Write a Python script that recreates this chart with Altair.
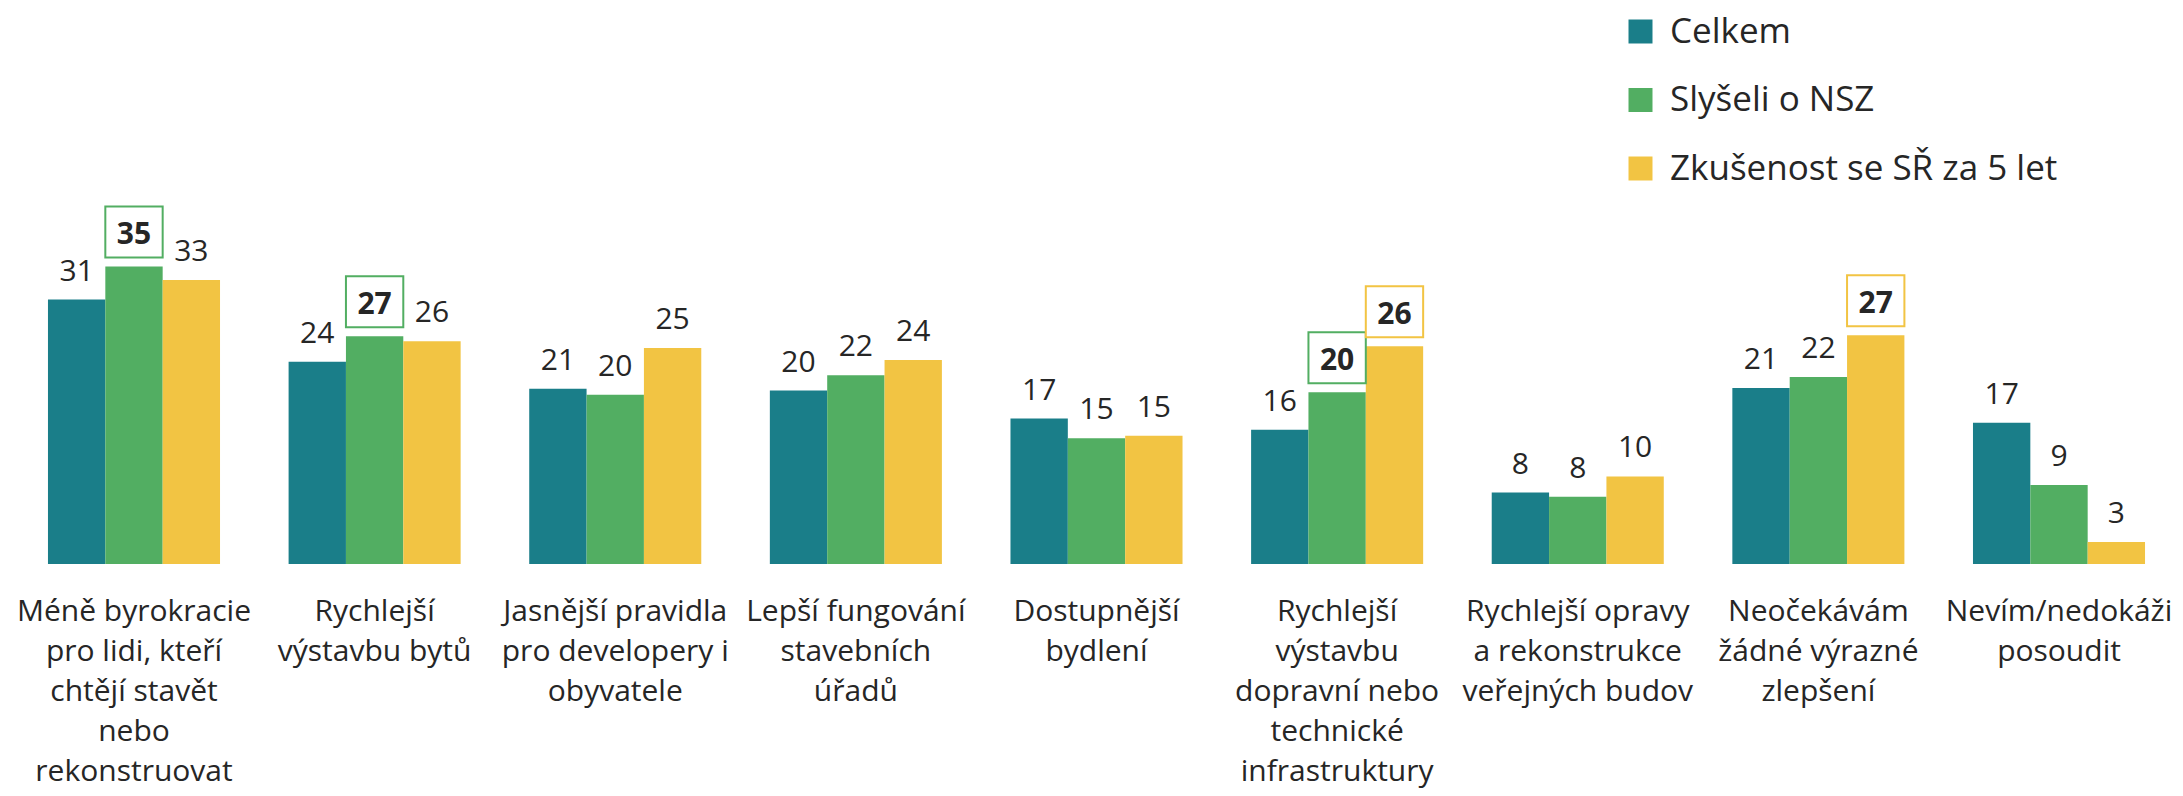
import altair as alt
import pandas as pd

categories = [
    "Méně byrokracie|pro lidi, kteří|chtějí stavět|nebo|rekonstruovat",
    "Rychlejší|výstavbu bytů",
    "Jasnější pravidla|pro developery i|obyvatele",
    "Lepší fungování|stavebních|úřadů",
    "Dostupnější|bydlení",
    "Rychlejší|výstavbu|dopravní nebo|technické|infrastruktury",
    "Rychlejší opravy|a rekonstrukce|veřejných budov",
    "Neočekávám|žádné výrazné|zlepšení",
    "Nevím/nedokáži|posoudit",
]
series_names = ["Celkem", "Slyšeli o NSZ", "Zkušenost se SŘ za 5 let"]
colors = ["#1A7E89", "#52AE62", "#F2C443"]

celkem = [31.1, 23.8, 20.6, 20.4, 17.1, 15.8, 8.4, 20.7, 16.6]
slyseli = [35.0, 26.8, 19.9, 22.2, 14.8, 20.2, 7.9, 22.0, 9.3]
zkusenost = [33.4, 26.2, 25.4, 24.0, 15.1, 25.6, 10.3, 26.9, 2.6]

celkem_box = [False] * 9
slyseli_box = [True, True, False, False, False, True, False, False, False]
zkusenost_box = [False, False, False, False, False, True, False, True, False]

rows = []
for s, vals, boxes in zip(series_names, [celkem, slyseli, zkusenost],
                          [celkem_box, slyseli_box, zkusenost_box]):
    for c, v, b in zip(categories, vals, boxes):
        rows.append({"category": c, "series": s, "value": v, "boxed": b})
df = pd.DataFrame(rows)

FONT = "Open Sans"

x_enc = alt.X(
    "category:N",
    sort=categories,
    scale=alt.Scale(paddingInner=0.285, paddingOuter=0.083),
    axis=alt.Axis(
        title=None,
        labelAngle=0,
        labelExpr="split(datum.label, '|')",
        labelFont=FONT,
        labelFontSize=30,
        labelColor="#262626",
        labelLineHeight=40,
        labelBaseline="top",
        labelPadding=32,
        labelLimit=0,
        ticks=False,
        domain=False,
        grid=False,
    ),
)
xo_enc = alt.XOffset("series:N", sort=series_names,
                     scale=alt.Scale(paddingInner=0, paddingOuter=0))
y_enc = alt.Y("value:Q", scale=alt.Scale(domain=[0, 65.4], nice=False, zero=True), axis=None)

base = alt.Chart(df).encode(x=x_enc, xOffset=xo_enc)

bars = base.mark_bar().encode(
    y=y_enc,
    color=alt.Color(
        "series:N",
        sort=series_names,
        scale=alt.Scale(domain=series_names, range=colors),
        legend=alt.Legend(
            title=None,
            orient="none",
            legendX=1595,
            legendY=6,
            symbolType="square",
            symbolSize=576,
            symbolStrokeWidth=0,
            labelFont=FONT,
            labelFontSize=35,
            labelColor="#262626",
            labelOffset=12,
            labelLimit=0,
            rowPadding=32.5,
            padding=0,
        ),
    ),
)

labels_plain = base.transform_filter("!datum.boxed").mark_text(
    font=FONT, fontSize=30, color="#262626", baseline="alphabetic", dy=-19
).encode(y=y_enc, text=alt.Text("value:Q", format=".0f"))

boxes = base.transform_filter("datum.boxed").mark_bar(
    fill="white", strokeWidth=2, yOffset=-9, y2Offset=-60
).encode(
    y=y_enc,
    y2=alt.Y2("value:Q"),
    stroke=alt.Stroke("series:N", sort=series_names,
                      scale=alt.Scale(domain=series_names, range=colors), legend=None),
)

labels_bold = base.transform_filter("datum.boxed").mark_text(
    font=FONT, fontSize=30, fontWeight="bold", color="#262626", baseline="alphabetic", dy=-22
).encode(y=y_enc, text=alt.Text("value:Q", format=".0f"))

chart = alt.layer(bars, labels_plain, boxes, labels_bold).properties(
    width=2137,
    height=556,
    autosize=alt.AutoSizeParams(type="none"),
    padding={"left": 20, "top": 0, "right": 10, "bottom": 224},
).configure(background="white").configure_view(stroke=None)

chart.save("out.html", embed_options={"renderer": "svg", "actions": False})
